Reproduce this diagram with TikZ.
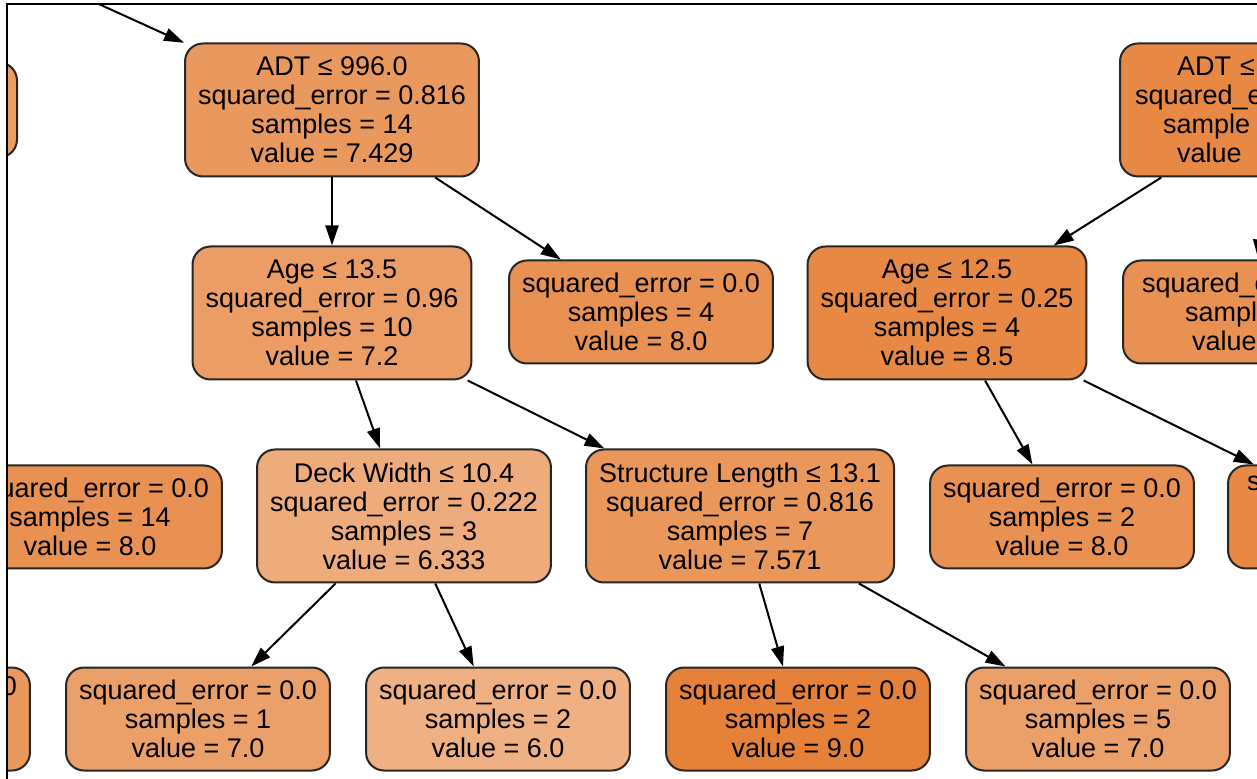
\documentclass[tikz,border=0pt]{standalone}
\usepackage{fontspec}
\setmainfont{Liberation Sans}
\usetikzlibrary{arrows.meta}

\definecolor{c90}{RGB}{229,129,57}
\definecolor{c85}{RGB}{231,137,69}
\definecolor{c80}{RGB}{232,145,82}
\definecolor{c7571}{RGB}{234,151,92}
\definecolor{c7429}{RGB}{234,153,94}
\definecolor{c72}{RGB}{235,157,101}
\definecolor{c70}{RGB}{235,160,106}
\definecolor{c6333}{RGB}{238,171,123}
\definecolor{c60}{RGB}{239,176,131}

\begin{document}
\begin{tikzpicture}[x=0.5pt,y=-0.5pt,
	treebox/.style={draw=black!85,line width=1pt,rounded corners=9pt,align=center,inner xsep=6.5pt,inner ysep=0pt,font=\fontsize{13.5pt}{14.5pt}\selectfont},
	decision/.style={treebox,minimum height=66.5pt},
	leafbox/.style={treebox,minimum height=51.5pt},
	cutbox/.style={align=left,text width=#1},
	link/.style={line width=1pt,-{Triangle[length=10pt,width=6.5pt]}}]

	\useasboundingbox (0,0) rectangle (1257,779);

	\begin{scope}
	\clip (7,4) rectangle (1257,779);

	% parent of the left branch lies above the picture
	\coordinate (up) at (-20,-50);

	\node[decision,fill=c7429] (adtA) at (332,110) {ADT ≤ 996.0\\squared\_error = 0.816\\samples = 14\\value = 7.429};
	\node[decision,fill=c85,cutbox=135pt] (adtB) at (1268,110) {\hspace*{22pt}ADT ≤\\\hspace*{1pt}squared\_e\\\hspace*{15pt}sample\\\hspace*{22pt}value};
	\node[leafbox,fill=c72,minimum width=132pt,minimum height=47.5pt] (leafTL) at (-115,110) {};

	\node[decision,fill=c72] (ageA) at (332,313) {Age ≤ 13.5\\squared\_error = 0.96\\samples = 10\\value = 7.2};
	\node[leafbox,fill=c80] (leafA) at (641,312) {squared\_error = 0.0\\samples = 4\\value = 8.0};
	\node[decision,fill=c85] (ageB) at (947,313) {Age ≤ 12.5\\squared\_error = 0.25\\samples = 4\\value = 8.5};
	\node[leafbox,fill=c80,cutbox=119pt] (leafB) at (1255,312) {\hspace*{3pt}squared\_e\\\hspace*{24.5pt}sampl\\\hspace*{28pt}value};

	\node[leafbox,fill=c80] (leafL) at (90,517) {squared\_error = 0.0\\samples = 14\\value = 8.0};
	\node[decision,fill=c6333] (deck) at (404,516) {Deck Width ≤ 10.4\\squared\_error = 0.222\\samples = 3\\value = 6.333};
	\node[decision,fill=c7571] (struct) at (740,516) {Structure Length ≤ 13.1\\squared\_error = 0.816\\samples = 7\\value = 7.571};
	\node[leafbox,fill=c80] (leafC) at (1062,517) {squared\_error = 0.0\\samples = 2\\value = 8.0};
	\node[leafbox,fill=c85,cutbox=119pt] (leafR) at (1360,517) {\hspace*{3pt}s\\\strut\\\strut};

	\node[leafbox,fill=c7429] (leafBL) at (-102,719) {squared\_error = 0.0\\\strut\\\strut};
	\node[leafbox,fill=c70] (leafD) at (198,719) {squared\_error = 0.0\\samples = 1\\value = 7.0};
	\node[leafbox,fill=c60] (leafE) at (498,719) {squared\_error = 0.0\\samples = 2\\value = 6.0};
	\node[leafbox,fill=c90] (leafF) at (798,719) {squared\_error = 0.0\\samples = 2\\value = 9.0};
	\node[leafbox,fill=c70] (leafG) at (1098,719) {squared\_error = 0.0\\samples = 5\\value = 7.0};

	\draw[link] (up) -- (adtA);
	\draw[link] (adtA) -- (ageA);
	\draw[link] (adtA) -- (leafA);
	\draw[link] (adtB) -- (ageB);
	\draw[link] (adtB) -- (leafB);
	\draw[link] (ageA) -- (deck);
	\draw[link] (ageA) -- (struct);
	\draw[link] (ageB) -- (leafC);
	\draw[link] (ageB) -- (leafR);
	\draw[link] (deck) -- (leafD);
	\draw[link] (deck) -- (leafE);
	\draw[link] (struct) -- (leafF);
	\draw[link] (struct) -- (leafG);
	\end{scope}

	% frame
	\draw[line width=1pt] (7,779) -- (7,4) -- (1257,4);

\end{tikzpicture}
\end{document}
